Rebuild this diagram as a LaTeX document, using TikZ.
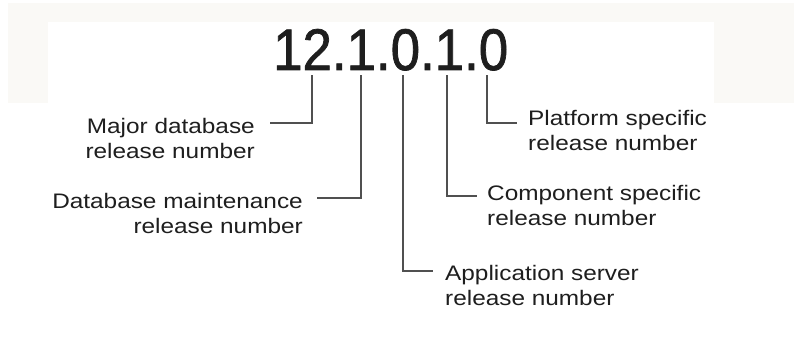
\documentclass[tikz,border=0pt]{standalone}
\usepackage{fontspec}
\newfontfamily\lblfont[FakeStretch=1.16]{Liberation Sans}
\newfontfamily\numfont[FakeStretch=0.9,FakeBold=1.2]{Liberation Sans}
\definecolor{txt}{HTML}{1E1E1E}
\definecolor{lead}{HTML}{505050}
\definecolor{band}{HTML}{FAF9F6}
\begin{document}
\begin{tikzpicture}[x=1pt,y=-1pt,
  lbl/.style={inner sep=0pt, text=txt, font=\lblfont\fontsize{21}{25}\selectfont},
  leader/.style={draw=lead, line width=1.2pt}]
\useasboundingbox (0,0) rectangle (794,353);
\fill[white] (0,0) rectangle (794,353);
\fill[band] (8,3) rectangle (794,103);
\fill[white] (48,22) rectangle (714,103);
% version number
\node[inner sep=0pt, anchor=base west, text=txt, font=\numfont\fontsize{58.7}{60}\selectfont] (num) at (273,70) {12.1.0.1.0};
% labels (anchor = baseline of the second line)
\node[lbl, align=right, anchor=base east] (maj) at (255,158) {Major database\\release number};
\node[lbl, align=right, anchor=base east] (db) at (303,233) {Database maintenance\\release number};
\node[lbl, align=left, anchor=base west] (app) at (445,305) {Application server\\release number};
\node[lbl, align=left, anchor=base west] (comp) at (487,225) {Component specific\\release number};
\node[lbl, align=left, anchor=base west] (plat) at (528,150) {Platform specific\\release number};
% leader ends
\coordinate (t1) at (312,75); \coordinate (e1) at (270,123);
\coordinate (t2) at (361,75); \coordinate (e2) at (317,198);
\coordinate (t3) at (403,75); \coordinate (e3) at (433,271);
\coordinate (t4) at (447,75); \coordinate (e4) at (477,196);
\coordinate (t5) at (487,75); \coordinate (e5) at (517,123);
\draw[leader] (t1) |- (e1);
\draw[leader] (t2) |- (e2);
\draw[leader] (t3) |- (e3);
\draw[leader] (t4) |- (e4);
\draw[leader] (t5) |- (e5);
\end{tikzpicture}
\end{document}
